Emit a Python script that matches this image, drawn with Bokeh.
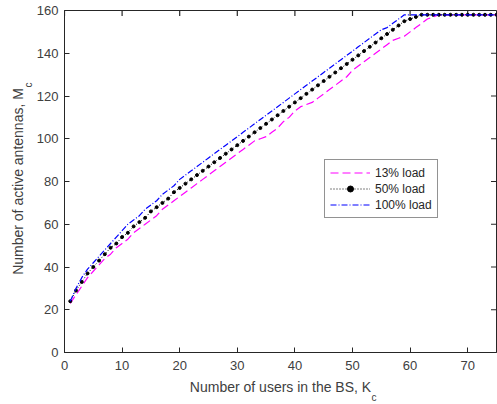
import math
from bokeh.plotting import figure
from bokeh.models import (Range1d, Label, Legend, LegendItem,
                          FixedTicker, ColumnDataSource)
from bokeh.embed import file_html
from bokeh.resources import INLINE

# ---- data ----
users = [1, 2, 3, 4, 5, 6, 7, 8, 9, 10, 11, 12, 13, 14, 15, 16, 17, 18, 19, 20,
         21, 22, 23, 24, 25, 26, 27, 28, 29, 30, 31, 32, 33, 34, 35, 36, 37, 38, 39, 40,
         41, 42, 43, 44, 45, 46, 47, 48, 49, 50, 51, 52, 53, 54, 55, 56, 57, 58, 59, 60,
         61, 62, 63, 64, 65, 66, 67, 68, 69, 70, 71, 72, 73, 74, 75]

load13 = [23, 27, 31, 35, 38, 41, 44, 46, 49, 51,
          53, 56, 58, 60, 62, 64, 67, 69, 71, 73,
          75, 77, 79, 81, 83, 85, 87, 89, 91, 93,
          95, 97, 99, 100, 101, 103, 105, 108, 110, 113,
          115, 116, 117, 119, 121, 123, 125, 127, 129, 132,
          134, 136, 138, 140, 142, 144, 146, 147, 148, 150,
          152, 154, 156, 157, 158, 158, 158, 158, 158, 158,
          158, 158, 158, 158, 158]

load50 = [24, 29, 33, 37, 40, 43, 46, 49, 51, 54,
          56, 59, 61, 63, 66, 68, 70, 72, 75, 77,
          79, 81, 83, 85, 87, 89, 91, 93, 95, 97,
          99, 101, 103, 105, 107, 109, 111, 113, 115, 117,
          119, 121, 123, 125, 127, 129, 131, 133, 135, 137,
          139, 141, 143, 145, 147, 149, 151, 153, 155, 156,
          157, 158, 158, 158, 158, 158, 158, 158, 158, 158,
          158, 158, 158, 158, 158]

load100 = [24, 30, 35, 39, 42, 45, 48, 51, 54, 57,
           60, 62, 64, 67, 69, 71, 74, 76, 78, 81,
           83, 85, 87, 89, 91, 93, 95, 97, 99, 101,
           103, 105, 107, 109, 111, 113, 115, 117, 119, 121,
           123, 125, 127, 129, 131, 133, 135, 137, 139, 141,
           143, 145, 147, 149, 151, 152, 154, 156, 158, 158,
           158, 158, 158, 158, 158, 158, 158, 158, 158, 158,
           158, 158, 158, 158, 158]

x_ticks = [0, 10, 20, 30, 40, 50, 60, 70]
y_ticks = [0, 20, 40, 60, 80, 100, 120, 140, 160]
series_labels = ["13% load", "50% load", "100% load"]

X_MAX, Y_MAX = 75, 160

src = ColumnDataSource(dict(k=users, a=load13, b=load50, c=load100))

FONT = "Liberation Sans"
AX = "#262626"
TXT = "#404040"

p = figure(frame_width=432, frame_height=342,
           x_range=Range1d(0, X_MAX), y_range=Range1d(0, Y_MAX),
           output_backend="svg", toolbar_location=None,
           min_border_left=64, min_border_right=1,
           min_border_top=10, min_border_bottom=52,
           background_fill_color="white", border_fill_color="white")
p.grid.visible = False
p.outline_line_color = AX
p.outline_line_width = 1

p.xaxis.ticker = FixedTicker(ticks=x_ticks)
p.yaxis.ticker = FixedTicker(ticks=y_ticks)
p.xaxis.axis_label = "Number of users in the BS, K"
p.yaxis.axis_label = "Number of active antennas, M"

for ax in (p.xaxis[0], p.yaxis[0]):
    ax.major_tick_in = 5
    ax.major_tick_out = 0
    ax.minor_tick_in = 0
    ax.minor_tick_out = 0
    ax.axis_line_color = AX
    ax.major_tick_line_color = AX
    ax.major_label_text_font = FONT
    ax.major_label_text_font_size = "13px"
    ax.major_label_text_color = TXT
    ax.axis_label_text_font = FONT
    ax.axis_label_text_font_size = "14px"
    ax.axis_label_text_font_style = "normal"
    ax.axis_label_text_color = TXT
p.xaxis.major_label_standoff = 8
p.xaxis.axis_label_standoff = 6
p.yaxis.major_label_standoff = 6
p.yaxis.axis_label_standoff = 8

# inner ticks on the top and right edges (half of each dash is clipped by the frame)
p.scatter(x=x_ticks, y=[Y_MAX] * len(x_ticks), marker="dash", angle=math.pi / 2,
          size=11, line_color=AX, line_width=1.2)
p.scatter(x=[X_MAX] * len(y_ticks), y=y_ticks, marker="dash",
          size=11, line_color=AX, line_width=1.2)

r13 = p.line("k", "a", source=src, line_color="#FF00FF", line_dash="8 4", line_width=1.2)
r50 = p.line("k", "b", source=src, line_color="black", line_dash="1 2", line_width=1)
r50d = p.scatter("k", "b", source=src, size=3, color="black")
r100 = p.line("k", "c", source=src, line_color="#0000FF", line_dash="6 2 1 2", line_width=1.2)

legend = Legend(items=[LegendItem(label=series_labels[0], renderers=[r13]),
                       LegendItem(label=series_labels[1], renderers=[r50, r50d]),
                       LegendItem(label=series_labels[2], renderers=[r100])],
                location=(260, 134))
legend.border_line_color = AX
legend.border_line_width = 1
legend.background_fill_color = "white"
legend.background_fill_alpha = 1
legend.label_text_font = FONT
legend.label_text_font_size = "12px"
legend.label_text_color = AX
legend.glyph_width = 40
legend.glyph_height = 15
legend.label_height = 15
legend.spacing = 1
legend.padding = 5
legend.margin = 0
legend.label_standoff = 5
p.add_layout(legend, "center")

# subscripts "c" of K and M; kept in the bottom side panel (below the visible
# window) so that they are not clipped to the plot frame
p.add_layout(Label(x=53.3, y=-21.0, text="c",
                   text_font=FONT, text_font_size="10px", text_color=TXT,
                   text_baseline="alphabetic", text_align="left"), "below")
p.add_layout(Label(x=-6.3, y=124.0, text="c",
                   text_font=FONT, text_font_size="10px", text_color=TXT,
                   angle=math.pi / 2, text_baseline="alphabetic", text_align="left"), "below")

open("out.html", "w").write(file_html(p, INLINE))
